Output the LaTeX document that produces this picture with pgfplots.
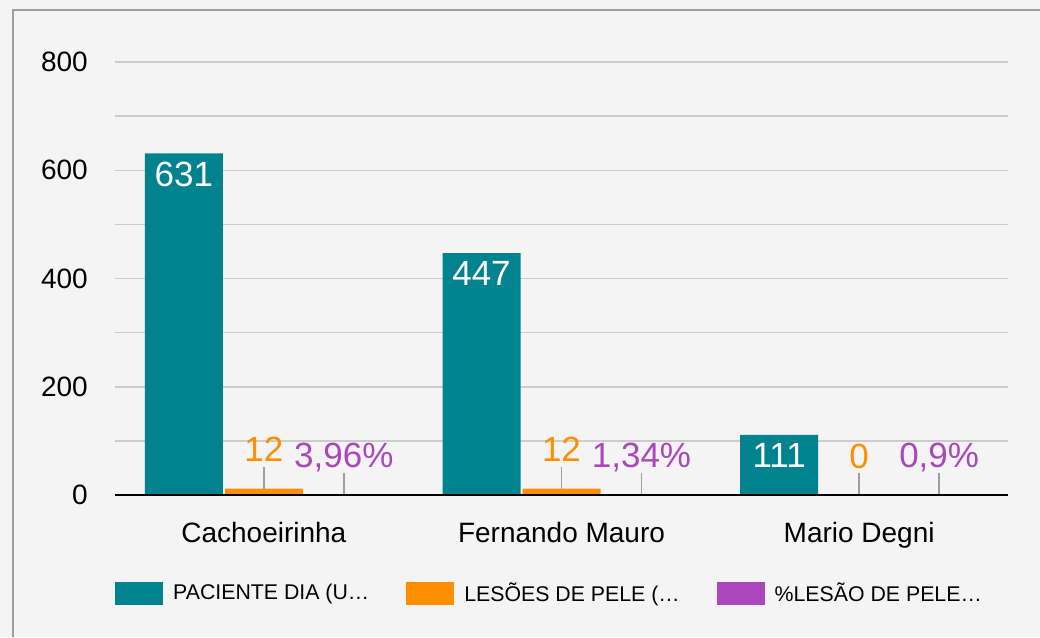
\documentclass[border=0pt]{standalone}
\usepackage{fontspec}
\setmainfont{Liberation Sans}
\usepackage{pgfplots}
\pgfplotsset{compat=1.18}
\definecolor{teal1}{HTML}{00838F}
\definecolor{orng}{HTML}{FF8F00}
\definecolor{purp}{HTML}{AB47BC}
\definecolor{bg}{HTML}{F4F4F4}
\definecolor{brd}{HTML}{9E9E9E}
\definecolor{grd}{HTML}{CCCCCC}
\definecolor{lead}{HTML}{9E9E9E}
\newcommand{\lblfont}{\fontsize{35}{42}\selectfont}
\begin{document}
\begin{tikzpicture}
\fill[bg] (-115pt,-142pt) rectangle (925pt,495pt);
\draw[brd, line width=2pt] (-101.5pt,-142pt) -- (-101.5pt,485pt) -- (925pt,485pt);
\begin{axis}[
  scale only axis, width=893pt, height=433pt,
  xmin=-0.5, xmax=2.5, ymin=0, ymax=800,
  ybar, bar width=78pt,
  xtick={0,1,2}, xticklabels={Cachoeirinha, Fernando Mauro, Mario Degni},
  ytick={0,200,400,600,800},
  minor ytick={100,300,500,700},
  ymajorgrids=true, yminorgrids=true,
  major grid style={grd, line width=1.5pt},
  minor grid style={grd, line width=1.5pt},
  axis line style={draw=none},
  tick style={draw=none},
  /pgf/number format/assume math mode=true,
  yticklabel style={font=\fontsize{28}{34}\selectfont, anchor=east, inner sep=0pt, xshift=-27pt},
  xticklabel style={font=\fontsize{28}{34}\selectfont, anchor=base, inner sep=0pt, yshift=-43pt},
  every axis plot post/.append style={legend image code/.code={\fill[##1] (0pt,-11.5pt) rectangle (48pt,11.5pt);}},
  legend columns=3,
  legend style={at={(axis description cs:0,0)}, anchor=west, yshift=-98pt,
    draw=none, fill=none, inner sep=0pt,
    font=\fontsize{21.3}{26}\selectfont,
    nodes={inner sep=0pt},
    /tikz/every odd column/.append style={column sep=10pt},
    /tikz/every even column/.append style={column sep=37pt}},
]
\addplot[fill=teal1, draw=none, bar shift=-80pt, point meta=explicit symbolic,
  nodes near coords,
  every node near coord/.style={anchor=north, xshift=-80pt, yshift=-8pt, inner sep=0pt, text=white, font=\lblfont}]
  coordinates {(0,631) [631] (1,447) [447] (2,111) [111]};
\addlegendentry{PACIENTE DIA (U…}
\addplot[fill=orng, draw=none, bar shift=0pt, point meta=explicit symbolic,
  nodes near coords,
  every node near coord/.style={anchor=base, yshift=27pt, inner sep=0pt, text=orng, font=\lblfont},
  error bars/.cd, y dir=plus, y fixed=40.6, error mark=none,
  error bar style={draw=lead, line width=1.5pt}]
  coordinates {(0,12) [12] (1,12) [12] (2,0) [0]};
\addlegendentry{LESÕES DE PELE (…}
\addplot[fill=purp, draw=none, bar shift=80pt, point meta=explicit symbolic,
  nodes near coords,
  every node near coord/.style={anchor=base, xshift=80pt, yshift=27pt, inner sep=0pt, text=purp, font=\lblfont},
  error bars/.cd, y dir=plus, y fixed=40.6, error mark=none,
  error bar style={draw=lead, line width=1.5pt}]
  coordinates {(0,0.0396) [{3,96\%}] (1,0.0134) [{1,34\%}] (2,0.009) [{0,9\%}]};
\addlegendentry{\%LESÃO DE PELE…}
\draw[black, line width=2pt] (axis cs:-0.5,0) -- (axis cs:2.5,0);
\end{axis}
\pgfresetboundingbox
\useasboundingbox (-115pt,-142pt) rectangle (925pt,495pt);
\end{tikzpicture}
\end{document}
